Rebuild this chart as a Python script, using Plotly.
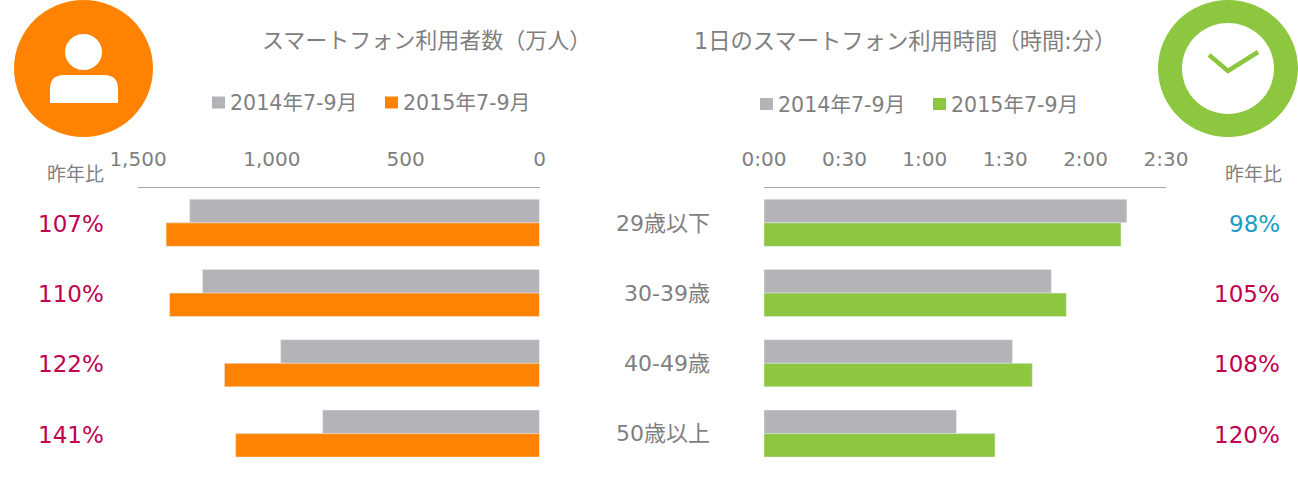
import plotly.graph_objects as go

W, H = 1298, 493
FONT = "DejaVu Sans, Noto Sans CJK JP"
TEXT = "#7f7f7f"

ages = ["29歳以下", "30-39歳", "40-49歳", "50歳以上"]
series_2014 = "2014年7-9月"
series_2015 = "2015年7-9月"
users_2014 = [1307, 1259, 967, 810]
users_2015 = [1395, 1382, 1177, 1135]
minutes_2014 = [135.4, 107.2, 92.7, 71.8]
minutes_2015 = [133.2, 112.8, 100.1, 86.2]
users_yoy = ["107%", "110%", "122%", "141%"]
minutes_yoy = ["98%", "105%", "108%", "120%"]
minutes_yoy_up = [False, True, True, True]
user_ticks = [0, 500, 1000, 1500]
time_ticks = [0, 30, 60, 90, 120, 150]
time_tick_labels = ["0:00", "0:30", "1:00", "1:30", "2:00", "2:30"]

GRAY, ORANGE, GREEN = "#b3b3b8", "#ff8300", "#8dc63f"
RED, BLUE = "#c2004f", "#1a9cc4"

def px(x): return x / W
def py(y): return 1 - y / H

fig = go.Figure()
fig.add_bar(y=ages, x=users_2014, name=series_2014, orientation="h", marker_color=GRAY, xaxis="x", yaxis="y")
fig.add_bar(y=ages, x=users_2015, name=series_2015, orientation="h", marker_color=ORANGE, xaxis="x", yaxis="y")
fig.add_bar(y=ages, x=minutes_2014, name=series_2014, orientation="h", marker_color=GRAY, xaxis="x2", yaxis="y2")
fig.add_bar(y=ages, x=minutes_2015, name=series_2015, orientation="h", marker_color=GREEN, xaxis="x2", yaxis="y2")

axis_common = dict(side="top", showgrid=False, zeroline=False, showline=True, linecolor="#a6a6a6",
                   linewidth=1, ticks="outside", ticklen=13, tickcolor="rgba(0,0,0,0)",
                   tickfont=dict(family=FONT, size=20, color=TEXT))
y_dom = [py(468.7), py(187.7)]

fig.update_layout(
    width=W, height=H, autosize=False,
    margin=dict(l=0, r=0, t=0, b=0, autoexpand=False),
    paper_bgcolor="white", plot_bgcolor="white",
    barmode="group", bargap=0.33, bargroupgap=0, showlegend=False,
    xaxis=dict(domain=[px(138), px(539.5)], range=[1500, 0], anchor="y",
               tickvals=user_ticks, tickformat=",", **axis_common),
    yaxis=dict(domain=y_dom, anchor="x", autorange="reversed", showticklabels=False,
               showgrid=False, zeroline=False, showline=False, ticks=""),
    xaxis2=dict(domain=[px(764), px(1166)], range=[0, 150], anchor="y2",
                tickvals=time_ticks, ticktext=time_tick_labels, **axis_common),
    yaxis2=dict(domain=y_dom, anchor="x2", autorange="reversed", showgrid=False, zeroline=False,
                showline=False, ticks="", ticklabelstandoff=53,
                tickfont=dict(family=FONT, size=22, color=TEXT)),
)

def label(x, y, text, size, color, anchor="center", yref="paper", yshift=0):
    fig.add_annotation(x=px(x), y=y, xref="paper", yref=yref, text=text, showarrow=False,
                       xanchor=anchor, yanchor="middle", borderpad=0, borderwidth=0, yshift=yshift,
                       font=dict(family=FONT, size=size, color=color))

def rect_shape(kind, x0, y0, x1, y1, color):
    fig.add_shape(type=kind, xref="paper", yref="paper", x0=px(x0), x1=px(x1), y0=py(y0), y1=py(y1),
                  fillcolor=color, line_width=0, layer="above")

label(426, py(40.5), "スマートフォン利用者数（万人）", 22, TEXT)
label(905, py(40.5), "1日のスマートフォン利用時間（時間:分）", 22.3, TEXT)
label(104, py(174), "昨年比", 19, TEXT, anchor="right")
label(1282, py(174), "昨年比", 19, TEXT, anchor="right")
for age, txt in zip(ages, users_yoy):
    label(104, age, txt, 23, RED, anchor="right", yref="y", yshift=-1)
for age, txt, up in zip(ages, minutes_yoy, minutes_yoy_up):
    label(1280, age, txt, 23, RED if up else BLUE, anchor="right", yref="y", yshift=-1)

# legends
for sx, tx, yc, name, col in [(212, 230, 102.5, series_2014, GRAY), (385, 403, 102.5, series_2015, ORANGE),
                              (760, 778, 104, series_2014, GRAY), (933, 951, 104, series_2015, GREEN)]:
    rect_shape("rect", sx, yc - 6, sx + 13, yc + 6, col)
    label(tx, py(yc + 0.5), name, 20.6, TEXT, anchor="left")

# person icon
rect_shape("circle", 14, 0, 153, 137, ORANGE)
rect_shape("circle", 65, 34, 102, 70, "white")
fig.add_shape(type="path", xref="paper", yref="paper", fillcolor="white", line_width=0,
              path=f"M {px(50)} {py(103)} L {px(50)} {py(89)} Q {px(50)} {py(75)} {px(64)} {py(75)} "
                   f"L {px(104)} {py(75)} Q {px(118)} {py(75)} {px(118)} {py(89)} L {px(118)} {py(103)} Z")
# clock icon
rect_shape("circle", 1158, 0, 1298, 137, GREEN)
rect_shape("circle", 1182, 23, 1274, 114, "white")
fig.add_shape(type="path", xref="paper", yref="paper", line=dict(color=GREEN, width=4.5),
              path=f"M {px(1209)} {py(55)} L {px(1228)} {py(71)} L {px(1258)} {py(52)}")

fig.write_html("out.html", config=dict(displayModeBar=False), post_script="document.body.style.margin='0';")
